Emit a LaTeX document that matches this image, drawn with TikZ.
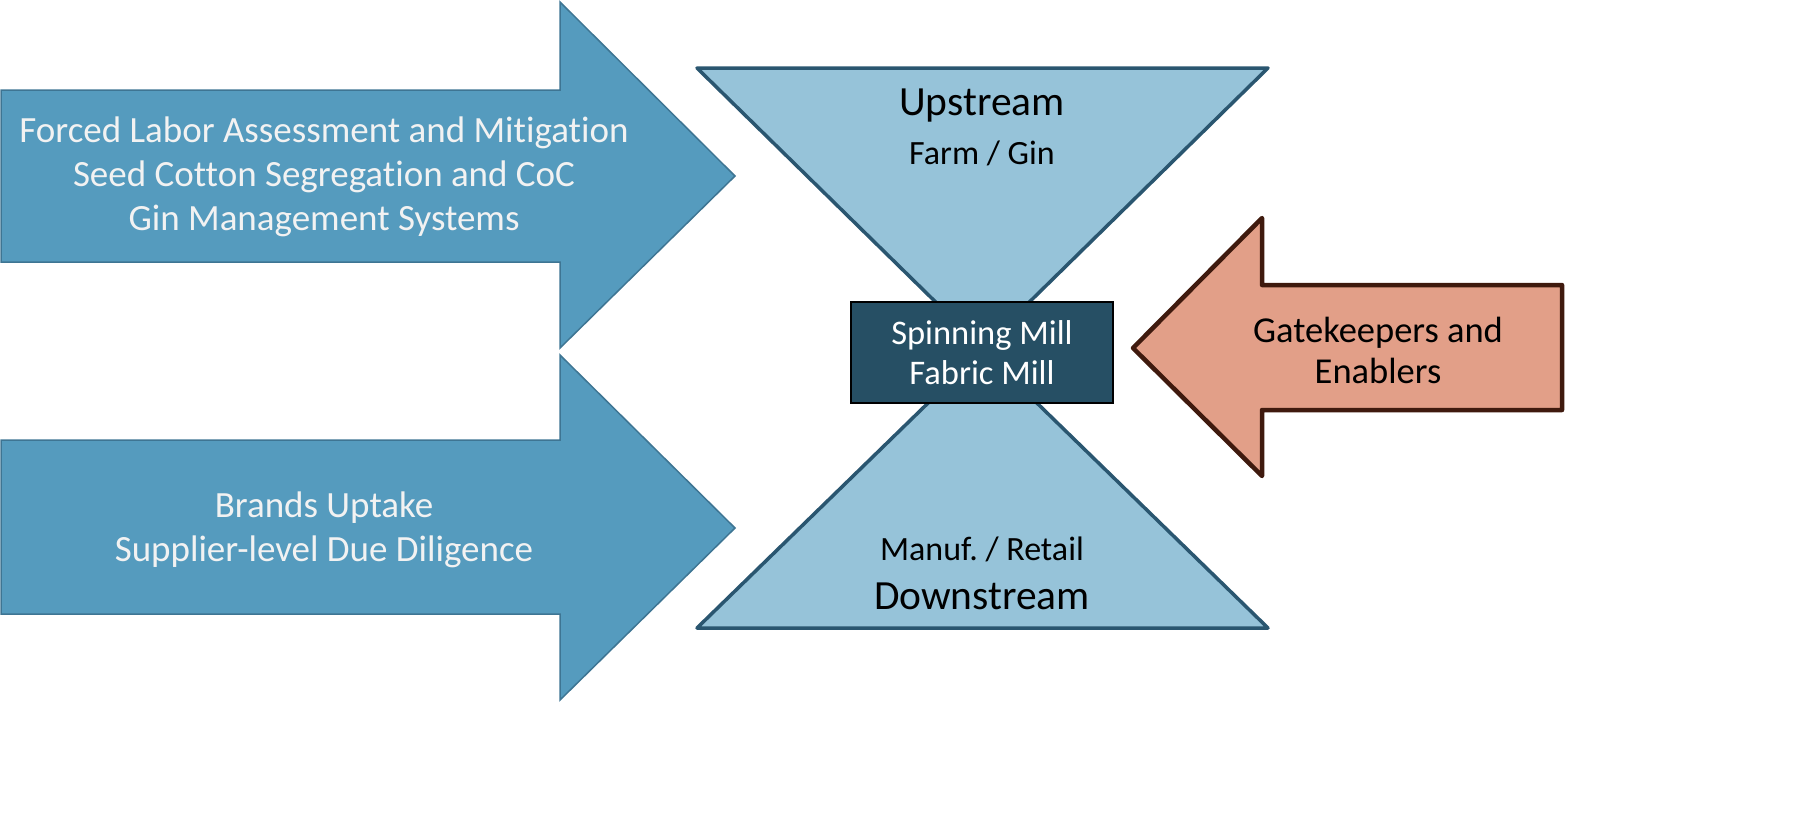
\documentclass[tikz,border=0pt]{standalone}
\usepackage{fontspec}
\setmainfont{Carlito}[Ligatures={NoCommon}]
\definecolor{arrowfill}{HTML}{559BBE}
\definecolor{arrowline}{HTML}{3E7593}
\definecolor{trifill}{HTML}{96C3D9}
\definecolor{triline}{HTML}{2A5670}
\definecolor{boxfill}{HTML}{264F64}
\definecolor{orfill}{HTML}{E29F88}
\definecolor{orline}{HTML}{3F1A0E}
\definecolor{offwhite}{HTML}{F2F2F2}
\tikzset{
  bluearrow/.style={fill=arrowfill, draw=arrowline, line width=1.5pt, line join=miter},
  tri/.style={fill=trifill, draw=triline, line width=3.5pt, line join=round},
  millbox/.style={fill=boxfill, draw=black, line width=2.5pt},
  orarrow/.style={fill=orfill, draw=orline, line width=4.5pt, line join=round},
  wtext/.style={text=offwhite, align=center, font=\fontsize{37}{44}\selectfont},
}
\begin{document}
\frenchspacing
\begin{tikzpicture}[x=1pt,y=-1pt]
\useasboundingbox (0,0) rectangle (1812,815);
% blue arrows
\draw[bluearrow] (1,90) -- (560,90) -- (560,2) -- (735,176) -- (560,348) -- (560,262) -- (1,262) -- cycle;
\draw[bluearrow] (1,440) -- (560,440) -- (560,355) -- (735,528) -- (560,700) -- (560,614) -- (1,614) -- cycle;
% hourglass
\draw[tri] (697,68) -- (1268,68) -- (982.5,348) -- cycle;
\draw[tri] (697,628) -- (1268,628) -- (982.5,350) -- cycle;
% orange arrow
\draw[orarrow] (1133,348) -- (1262,218) -- (1262,285) -- (1562,285) -- (1562,410) -- (1262,410) -- (1262,476) -- cycle;
% box
\node[millbox, minimum width=262pt, minimum height=101pt, inner sep=0pt, text=white, align=center,
      font=\fontsize{34.5}{40}\selectfont] (mill) at (982,352.5) {Spinning Mill\\Fabric Mill};
% texts
\node[wtext] (t1) at (324,177) {Forced Labor Assessment and Mitigation\\Seed Cotton Segregation and CoC\\Gin Management Systems};
\node[wtext] (t2) at (324,530) {Brands Uptake\\Supplier-level Due Diligence};
\node[font=\fontsize{41.5}{44}\selectfont] (up) at (982,106) {Upstream};
\node[font=\fontsize{34}{36}\selectfont] (farm) at (982,153) {Farm / Gin};
\node[font=\fontsize{34}{36}\selectfont] (manuf) at (982,549) {Manuf. / Retail};
\node[font=\fontsize{41.5}{44}\selectfont] (down) at (982,596) {Downstream};
\node[align=center, font=\fontsize{36.5}{41}\selectfont] (gate) at (1378,350) {Gatekeepers and\\Enablers};
\end{tikzpicture}
\end{document}
